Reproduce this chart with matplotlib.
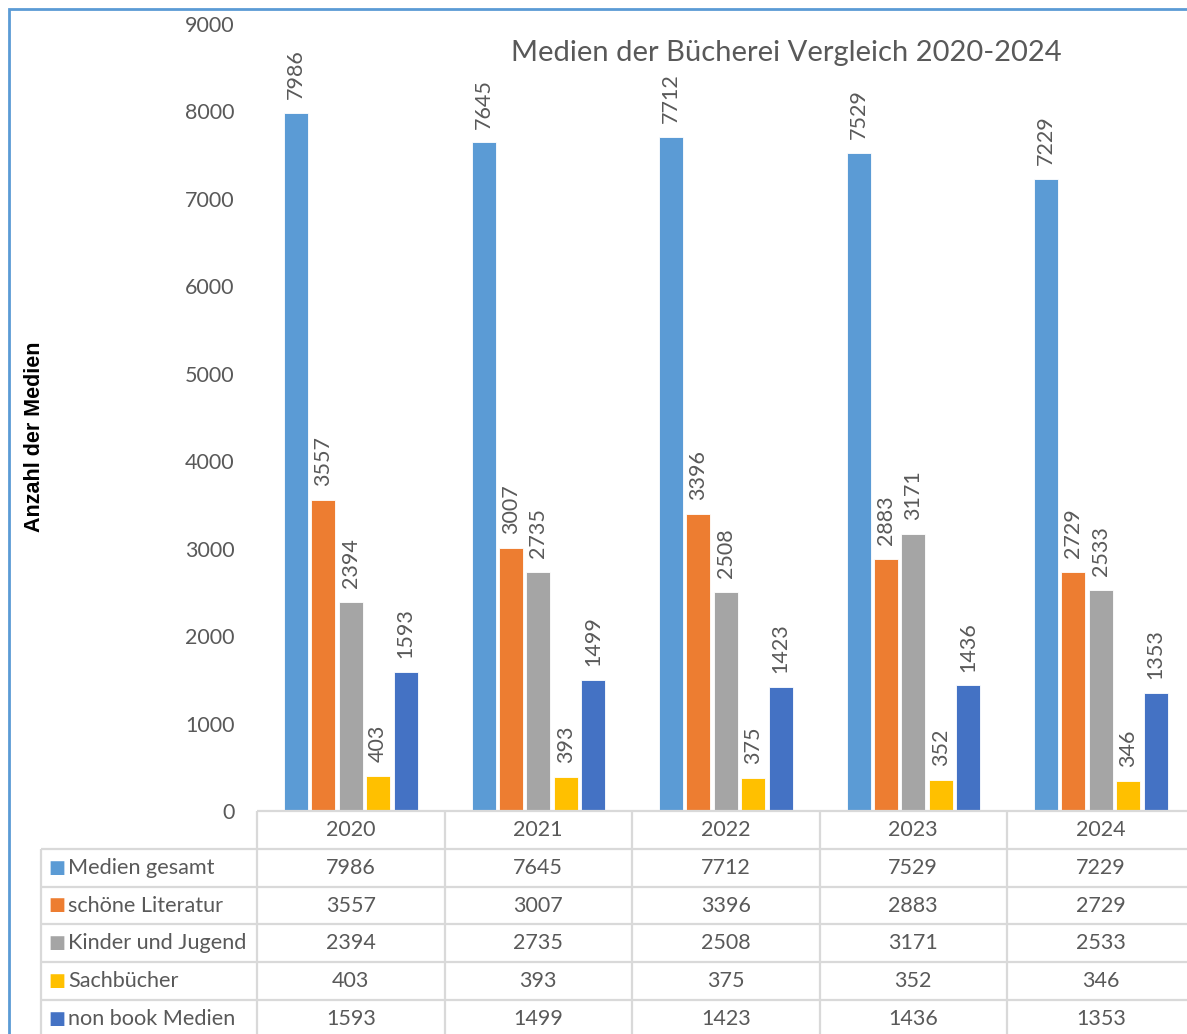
import numpy as np
import matplotlib.pyplot as plt
from matplotlib.patches import Rectangle

years = ['2020', '2021', '2022', '2023', '2024']
series = ['Medien gesamt', 'schöne Literatur', 'Kinder und Jugend', 'Sachbücher', 'non book Medien']
gesamt = [7986, 7645, 7712, 7529, 7229]
literatur = [3557, 3007, 3396, 2883, 2729]
kinder = [2394, 2735, 2508, 3171, 2533]
sach = [403, 393, 375, 352, 346]
nonbook = [1593, 1499, 1423, 1436, 1353]
colors = ['#5B9BD5', '#ED7D31', '#A5A5A5', '#FFC000', '#4472C4']

values = [gesamt, literatur, kinder, sach, nonbook]
txtcol = '#595959'
gridcol = '#D9D9D9'
plt.rcParams['font.family'] = ['Lato', 'DejaVu Sans']

W, H = 1187, 1034
fig = plt.figure(figsize=(W / 100, H / 100), dpi=100)

# main bar axes
ax_l, ax_w = 257 / W, 937.5 / W
ax_b, ax_h = 1 - 811 / H, 787 / H
ax = fig.add_axes([ax_l, ax_b, ax_w, ax_h])

x = np.arange(len(years))
step = 0.146
bw = 0.128
for i, (name, vals) in enumerate(zip(series, values)):
    pos = x + (i - 2) * step
    bars = ax.bar(pos, vals, bw, color=colors[i], edgecolor='white', linewidth=0.6)
    for b, v in zip(bars, vals):
        ax.annotate(str(v), (b.get_x() + b.get_width() / 2, v), xytext=(0, 10),
                    textcoords='offset points', rotation=90, ha='center', va='bottom',
                    fontsize=15.5, color=txtcol)

ax.set_xlim(-0.5, 4.5)
ax.set_ylim(0, 9000)
ax.set_yticks(range(0, 9001, 1000))
ax.tick_params(axis='y', length=0, pad=16, labelsize=15.5, labelcolor=txtcol)
ax.set_xticks([])
for s in ax.spines.values():
    s.set_visible(False)

# data table under the chart
row_h = 37.8
tb_top = 811
tx = fig.add_axes([ax_l, 1 - (tb_top + 6 * row_h) / H, ax_w, 6 * row_h / H])
tx.set_xlim(-0.5, 4.5)
tx.set_ylim(6, 0)
tx.axis('off')
lab_left = -0.5 - 216 / 187.5

kw = dict(color=gridcol, lw=1.6, clip_on=False)
tx.hlines(0, -0.5, 4.5, **kw)
tx.hlines(np.arange(1, 7), lab_left, 4.5, **kw)
tx.vlines(lab_left, 1, 6, **kw)
tx.vlines(np.arange(-0.5, 4.6, 1), 0, 6, **kw)

for j, yr in enumerate(years):
    tx.text(j, 0.5, yr, ha='center', va='center', fontsize=15.5, color=txtcol)
for i, (name, vals) in enumerate(zip(series, values)):
    r = i + 1.5
    tx.text(lab_left + 0.04, r, '■', ha='left', va='center', fontsize=13,
            color=colors[i], family='DejaVu Sans', clip_on=False)
    tx.text(lab_left + 0.143, r, name, ha='left', va='center', fontsize=15.6,
            color=txtcol, clip_on=False)
    for j, v in enumerate(vals):
        tx.text(j, r, str(v), ha='center', va='center', fontsize=15.5, color=txtcol)

fig.text(786 / W, 1 - 53 / H, 'Medien der Bücherei Vergleich 2020-2024',
         ha='center', va='center', fontsize=21, color=txtcol)
fig.text(35 / W, 1 - 437 / H, 'Anzahl der Medien', rotation=90, ha='center',
         va='center', fontsize=15.5, fontweight='bold', color='black',
         family='Liberation Sans')

fig.add_artist(Rectangle((9 / W, -0.2), 1.5, 1.2 - 9 / H, transform=fig.transFigure,
                         fill=False, edgecolor='#5B9BD5', lw=2))

fig.savefig('out.png', dpi=100)
